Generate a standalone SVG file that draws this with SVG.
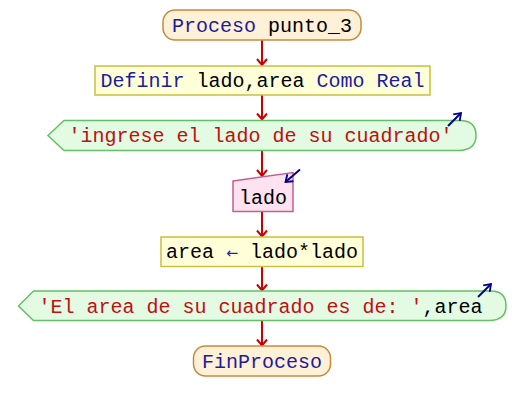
<svg xmlns="http://www.w3.org/2000/svg" width="524" height="411" viewBox="0 0 524 411">
  <defs>
    <marker id="flow" viewBox="0 0 12 12" refX="10" refY="6" markerWidth="12" markerHeight="12" markerUnits="userSpaceOnUse" orient="auto">
      <path d="M4,1 L10,6 L4,11" fill="none" stroke="#cc0000" stroke-width="2"/>
    </marker>
    <marker id="io" viewBox="0 0 12 12" refX="10" refY="6" markerWidth="11" markerHeight="11" markerUnits="userSpaceOnUse" orient="auto">
      <path d="M3,1 L10,6 L3,11" fill="none" stroke="#000090" stroke-width="2"/>
    </marker>
  </defs>
  <style>
    text { font-family: "Liberation Mono", "Courier New", monospace; font-size: 20px; text-anchor: middle; fill: #000000; }
    .kw { fill: #1c1ca0; }
    .str { fill: #c01010; }
    .arr { fill: #2020c0; font-family: "DejaVu Sans", sans-serif; font-size: 14.5px; }
    .term { fill: #fff0d8; stroke: #c88a3a; stroke-width: 1.5; }
    .proc { fill: #ffffd8; stroke: #c8c040; stroke-width: 1.5; }
    .out { fill: #e2fbe2; stroke: #64c064; stroke-width: 1.5; }
    .in { fill: #ffe2f0; stroke: #c06090; stroke-width: 1.5; }
    .edge { stroke: #cc0000; stroke-width: 2; fill: none; marker-end: url(#flow); }
    .ioarrow { stroke: #000090; stroke-width: 2; fill: none; marker-end: url(#io); }
  </style>

  <!-- flow connectors -->
  <g id="connectors">
    <line class="edge" x1="262" y1="40" x2="262" y2="65"/>
    <line class="edge" x1="262" y1="95" x2="262" y2="119.5"/>
    <line class="edge" x1="262" y1="150" x2="262" y2="176"/>
    <line class="edge" x1="262" y1="212" x2="262" y2="236.5"/>
    <line class="edge" x1="262" y1="267" x2="262" y2="290.5"/>
    <line class="edge" x1="262" y1="321" x2="262" y2="345.5"/>
  </g>

  <g id="start">
    <rect class="term" x="163" y="10" width="198" height="30" rx="12" ry="12"/>
    <text x="262" y="32"><tspan class="kw">Proceso</tspan> punto_3</text>
  </g>

  <g id="define">
    <rect class="proc" x="95" y="66" width="335" height="29"/>
    <text x="262.5" y="87"><tspan class="kw">Definir</tspan> lado,area <tspan class="kw">Como Real</tspan></text>
  </g>

  <g id="prompt">
    <path class="out" d="M48,135.5 L64,120.5 L460,120.5 Q476,120.5 476,135.5 Q476,150.5 458,150.5 L64,150.5 Z"/>
    <text x="260.5" y="142" class="str">'ingrese el lado de su cuadrado'</text>
    <line class="ioarrow" x1="448" y1="126" x2="461" y2="113"/>
  </g>

  <g id="read">
    <path class="in" d="M233,181 L293,172.5 L293,211.5 L233,211.5 Z"/>
    <text x="263" y="204">lado</text>
    <line class="ioarrow" x1="300" y1="169.5" x2="285.5" y2="182"/>
  </g>

  <g id="assign">
    <rect class="proc" x="161" y="237" width="202" height="29.5"/>
    <text x="262" y="258">area <tspan class="arr">←</tspan> lado*lado</text>
  </g>

  <g id="result">
    <path class="out" d="M18.5,306 L33.5,291 L491,291 Q506,291 506,306 Q506,320.5 489,320.5 L33.5,320.5 Z"/>
    <text x="260.5" y="313"><tspan class="str">'El area de su cuadrado es de: '</tspan>,area</text>
    <line class="ioarrow" x1="478" y1="297" x2="491" y2="284"/>
  </g>

  <g id="end">
    <rect class="term" x="193.5" y="346" width="137" height="30" rx="12" ry="12"/>
    <text x="262" y="368" class="kw">FinProceso</text>
  </g>
</svg>
